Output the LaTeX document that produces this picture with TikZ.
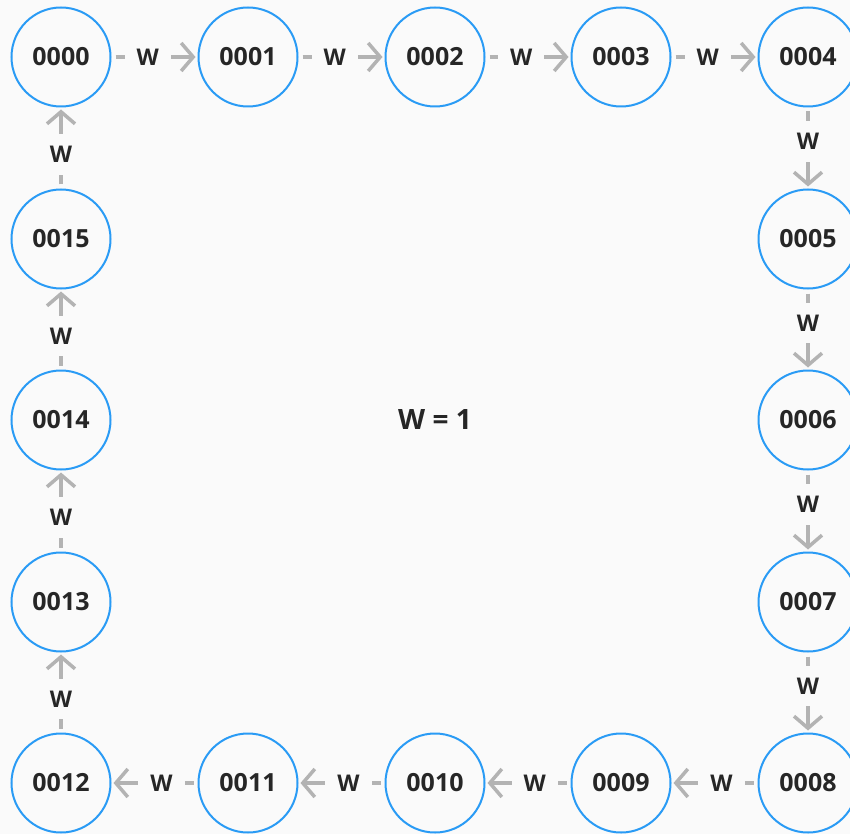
\documentclass[tikz,border=0pt]{standalone}
\usepackage{fontspec}
\setmainfont{Open Sans}
\usepackage{tikz}
\usetikzlibrary{arrows.meta}
\definecolor{ringblue}{HTML}{2A9BF5}
\definecolor{linkgray}{HTML}{B3B3B3}
\definecolor{inkdark}{HTML}{262626}
\definecolor{paper}{HTML}{FAFAFA}

\begin{document}
\begin{tikzpicture}[x=1pt, y=-1pt,
    state/.style={circle, draw=ringblue, line width=2pt, minimum size=99pt, inner sep=0pt,
        font=\fontsize{25}{28}\selectfont\bfseries, text=inkdark},
    link/.style={draw=linkgray, line width=3.5pt, -{Straight Barb[length=12pt, width=28pt]},
        shorten <=4pt, shorten >=2pt},
    wlabel/.style={fill=paper, inner sep=12pt, pos=0.42,
        font=\fontsize{23}{26}\selectfont\bfseries, text=inkdark}]

    % Background and page size
    \fill[paper] (0,0) rectangle (850,834);
    \useasboundingbox (0,0) rectangle (850,834);

    % States around the ring
    \foreach \i/\x/\y in {0/61/57, 1/248/57, 2/435/57, 3/621/57, 4/808/57,
                          5/808/239, 6/808/420, 7/808/602, 8/808/783,
                          9/621/783, 10/435/783, 11/248/783, 12/61/783,
                          13/61/602, 14/61/420, 15/61/239} {
        \node[state] (n\i) at (\x,\y) {\ifnum\i<10 000\i\else 00\i\fi};
    }

    % Transitions, each with weight W
    \foreach \a/\b in {0/1, 1/2, 2/3, 3/4, 4/5, 5/6, 6/7, 7/8,
                       8/9, 9/10, 10/11, 11/12, 12/13, 13/14, 14/15, 15/0} {
        \draw[link] (n\a) -- node[wlabel] {W} (n\b);
    }

    % Weight value
    \node[font=\fontsize{28}{31}\selectfont\bfseries, text=inkdark] (wval) at (435,420) {W = 1};
\end{tikzpicture}
\end{document}
